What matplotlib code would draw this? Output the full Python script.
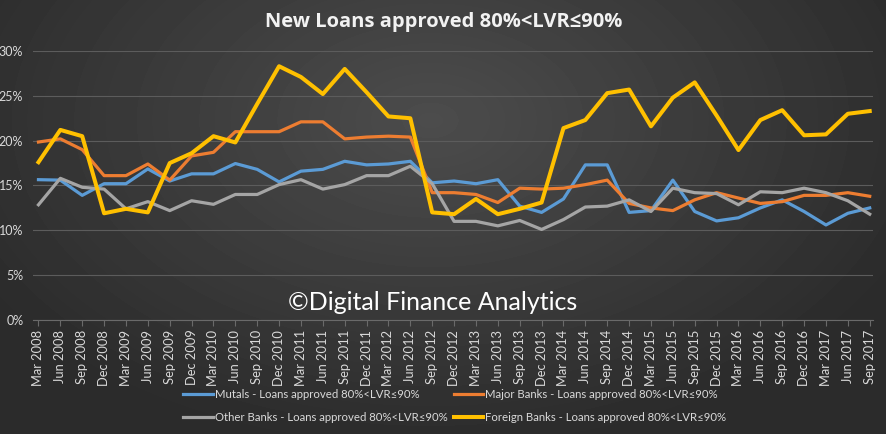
import matplotlib.pyplot as plt
import numpy as np

quarters = [f"{m} {y}" for y in range(2008, 2018) for m in ("Mar", "Jun", "Sep", "Dec")][:39]

mutals = [15.65, 15.6, 13.9, 15.2, 15.2, 16.85, 15.5, 16.3, 16.3, 17.45, 16.8, 15.4,
          16.6, 16.8, 17.7, 17.3, 17.4, 17.7, 15.3, 15.5, 15.2, 15.65, 12.7, 12.0,
          13.5, 17.3, 17.3, 12.0, 12.2, 15.6, 12.1, 11.05, 11.4, 12.5, 13.4, 12.1,
          10.6, 11.9, 12.5]
major = [19.85, 20.2, 19.0, 16.1, 16.1, 17.4, 15.6, 18.3, 18.7, 21.0, 21.0, 21.0,
         22.1, 22.1, 20.2, 20.4, 20.5, 20.4, 14.2, 14.2, 14.0, 13.1, 14.7, 14.6,
         14.7, 15.1, 15.6, 13.0, 12.5, 12.2, 13.4, 14.2, 13.6, 13.0, 13.2, 13.9,
         13.9, 14.2, 13.8]
other = [12.85, 15.8, 14.8, 14.6, 12.4, 13.2, 12.2, 13.3, 12.9, 14.0, 14.0, 15.1,
         15.65, 14.6, 15.1, 16.1, 16.1, 17.15, 15.2, 11.0, 11.0, 10.5, 11.1, 10.1,
         11.2, 12.6, 12.7, 13.4, 12.1, 14.7, 14.2, 14.1, 12.85, 14.3, 14.2, 14.7,
         14.2, 13.3, 11.8]
foreign = [17.6, 21.2, 20.5, 11.9, 12.4, 12.0, 17.5, 18.6, 20.5, 19.8, 24.1, 28.3,
           27.1, 25.2, 28.0, 25.4, 22.7, 22.5, 12.0, 11.8, 13.5, 11.8, 12.4, 13.1,
           21.4, 22.3, 25.3, 25.7, 21.6, 24.8, 26.5, 22.8, 18.95, 22.3, 23.4, 20.6,
           20.7, 23.0, 23.3]

suffix = " - Loans approved 80%<LVR\u226490%"
txt = "#d9d9d9"
plt.rcParams["font.family"] = ["Lato", "DejaVu Sans"]

fig = plt.figure(figsize=(8.87, 4.34), dpi=100)

# radial gradient background
bg = fig.add_axes([0, 0, 1, 1], zorder=-10)
yy, xx = np.mgrid[0:434, 0:887]
r = np.sqrt(((xx - 430) / 520.0) ** 2 + ((yy - 120) / 330.0) ** 2)
shade = np.clip(0.30 - 0.13 * r, 0.17, 0.30)
bg.imshow(shade, cmap="gray", vmin=0, vmax=1, aspect="auto", interpolation="bilinear")
bg.axis("off")

ax = fig.add_axes([33 / 887, 1 - 320 / 434, 840 / 887, 269 / 434])
ax.patch.set_alpha(0)
x = np.arange(len(quarters))

ax.plot(x, np.array(mutals) / 100, color="#5B9BD5", lw=2.3, label="Mutals" + suffix)
ax.plot(x, np.array(major) / 100, color="#ED7D31", lw=2.3, label="Major Banks" + suffix)
ax.plot(x, np.array(other) / 100, color="#A5A5A5", lw=2.3, label="Other Banks" + suffix)
ax.plot(x, np.array(foreign) / 100, color="#FFC000", lw=2.9, label="Foreign Banks" + suffix)

ax.set_ylim(0, 0.30)
ax.set_xlim(-0.25, 38.15)
ax.set_yticks(np.arange(0, 0.31, 0.05))
ax.set_yticklabels([f"{int(round(v * 100))}%" for v in np.arange(0, 0.31, 0.05)])
ax.set_xticks(x)
ax.set_xticklabels(quarters, rotation=90)
ax.tick_params(axis="y", length=0, colors=txt, labelsize=9, pad=7)
ax.tick_params(axis="x", length=4, color="#6a6a6a", colors=txt, labelsize=9.3, pad=3)
ax.grid(axis="y", color="#5c5c5c", lw=0.8)
ax.set_axisbelow(True)
for s in ("top", "right", "left"):
    ax.spines[s].set_visible(False)
ax.spines["bottom"].set_color("#6a6a6a")

fig.text(0.5, 1 - 22 / 434, "New Loans approved 80%<LVR\u226490%", ha="center", va="center",
         color="#f2f2f2", fontsize=14.5, fontweight="bold", family=["Open Sans", "DejaVu Sans"])
fig.text(433 / 887, 1 - 302 / 434, "\u00a9Digital Finance Analytics", ha="center", va="center",
         color="white", fontsize=18)

h, l = ax.get_legend_handles_labels()
order = [0, 2, 1, 3]
leg = fig.legend([h[i] for i in order], [l[i] for i in order], ncol=2, loc="upper left",
                 bbox_to_anchor=(173 / 887, 1 - 379 / 434), frameon=False, fontsize=8.2,
                 handlelength=2.6, handletextpad=0.2, columnspacing=0.5, labelspacing=1.0,
                 labelcolor=txt)

fig.savefig("out.png", dpi=100)
